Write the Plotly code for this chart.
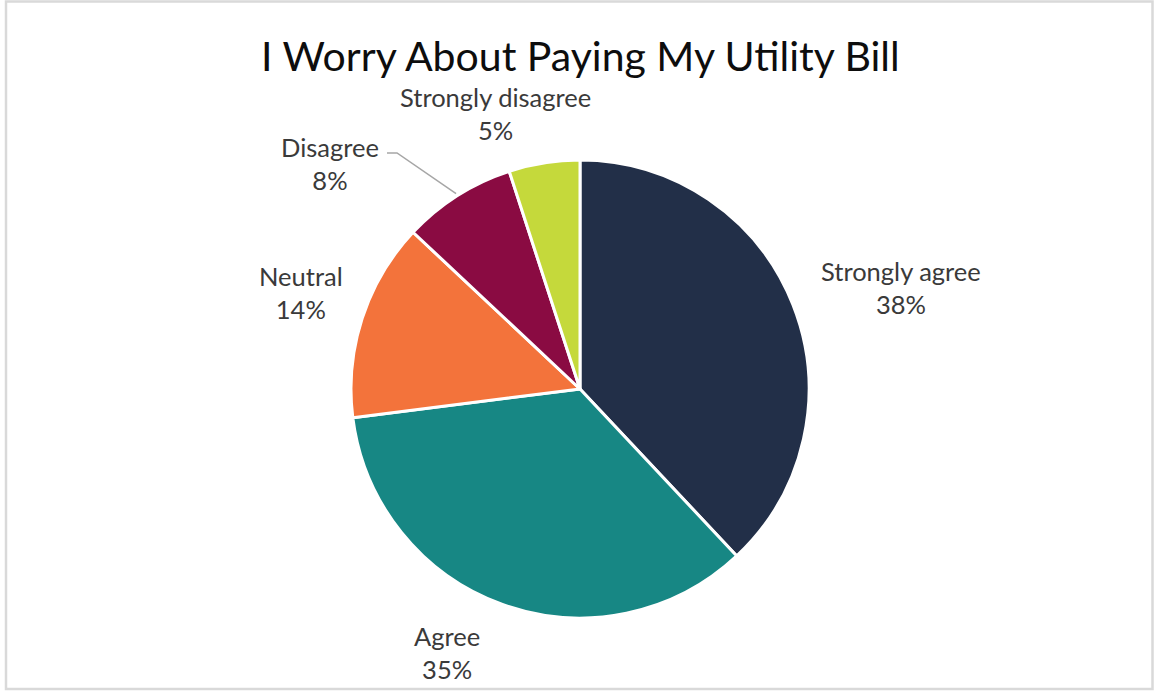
import math
import plotly.graph_objects as go

# Survey responses, clockwise from 12 o'clock
categories = ["Strongly agree", "Agree", "Neutral", "Disagree", "Strongly disagree"]
shares = [38, 35, 14, 8, 5]
colors = ["#222F48", "#178784", "#F3733B", "#8A0B42", "#C5D93B"]

# Label placement: distance from centre (in radii) and angular nudge (deg)
label_radius = [1.47, 1.29, 1.29, 1.469, 1.26]
label_nudge = [4.0, 7.0, 1.0, -15.6, -8.0]

W, H = 1154, 691
cx, cy, r = 580, 389, 229  # pie centre and radius in pixels


def px(x, y):
    return x / W, 1 - y / H


fig = go.Figure(
    go.Pie(
        labels=categories,
        values=shares,
        sort=False,
        direction="clockwise",
        rotation=0,
        marker=dict(colors=colors, line=dict(color="white", width=3)),
        textinfo="none",
        hoverinfo="label+percent",
        domain=dict(
            x=[(cx - r) / W, (cx + r) / W],
            y=[1 - (cy + r) / H, 1 - (cy - r) / H],
        ),
    )
)

total = sum(shares)
annotations = []
shapes = []
cum = 0
for i, (name, v) in enumerate(zip(categories, shares)):
    mid = (cum + v / 2) / total * 360
    cum += v
    ang = math.radians(mid + label_nudge[i])
    lx = cx + label_radius[i] * r * math.sin(ang)
    ly = cy - label_radius[i] * r * math.cos(ang)
    x, y = px(lx, ly)
    annotations.append(
        dict(
            x=x, y=y, xref="paper", yref="paper",
            text=f"{name}<br>{v}%",
            showarrow=False,
            font=dict(family="Lato, Open Sans, sans-serif", size=25.5, color="#3A3A3A"),
            align="center",
            xanchor="center", yanchor="middle",
        )
    )
    if name == "Disagree":
        # leader line from the label to the slice edge
        ma = math.radians(mid)
        ex = cx + 1.01 * r * math.sin(ma)
        ey = cy - 1.01 * r * math.cos(ma)
        sx, sy = lx + 57, ly - 11
        p0, p1, p2 = px(sx, sy), px(sx + 10, sy), px(ex, ey)
        shapes.append(
            dict(
                type="path", xref="paper", yref="paper",
                path=f"M {p0[0]},{p0[1]} L {p1[0]},{p1[1]} L {p2[0]},{p2[1]}",
                line=dict(color="#A6A6A6", width=1.5),
            )
        )

# chart-area frame
shapes.append(
    dict(
        type="rect", xref="paper", yref="paper",
        x0=6 / W, x1=1152.5 / W, y0=1 - 689 / H, y1=1 - 1.5 / H,
        line=dict(color="#D9D9D9", width=2.5),
        fillcolor="rgba(0,0,0,0)",
    )
)

annotations.append(
    dict(
        x=580 / W, y=1 - 55 / H, xref="paper", yref="paper",
        text="I Worry About Paying My Utility Bill",
        showarrow=False,
        font=dict(family="Lato, Open Sans, sans-serif", size=41, color="#0D0D0D"),
        xanchor="center", yanchor="middle",
    )
)

fig.update_layout(
    width=W, height=H,
    margin=dict(l=0, r=0, t=0, b=0),
    paper_bgcolor="white",
    plot_bgcolor="white",
    showlegend=False,
    annotations=annotations,
    shapes=shapes,
)

fig.write_html("out.html")
